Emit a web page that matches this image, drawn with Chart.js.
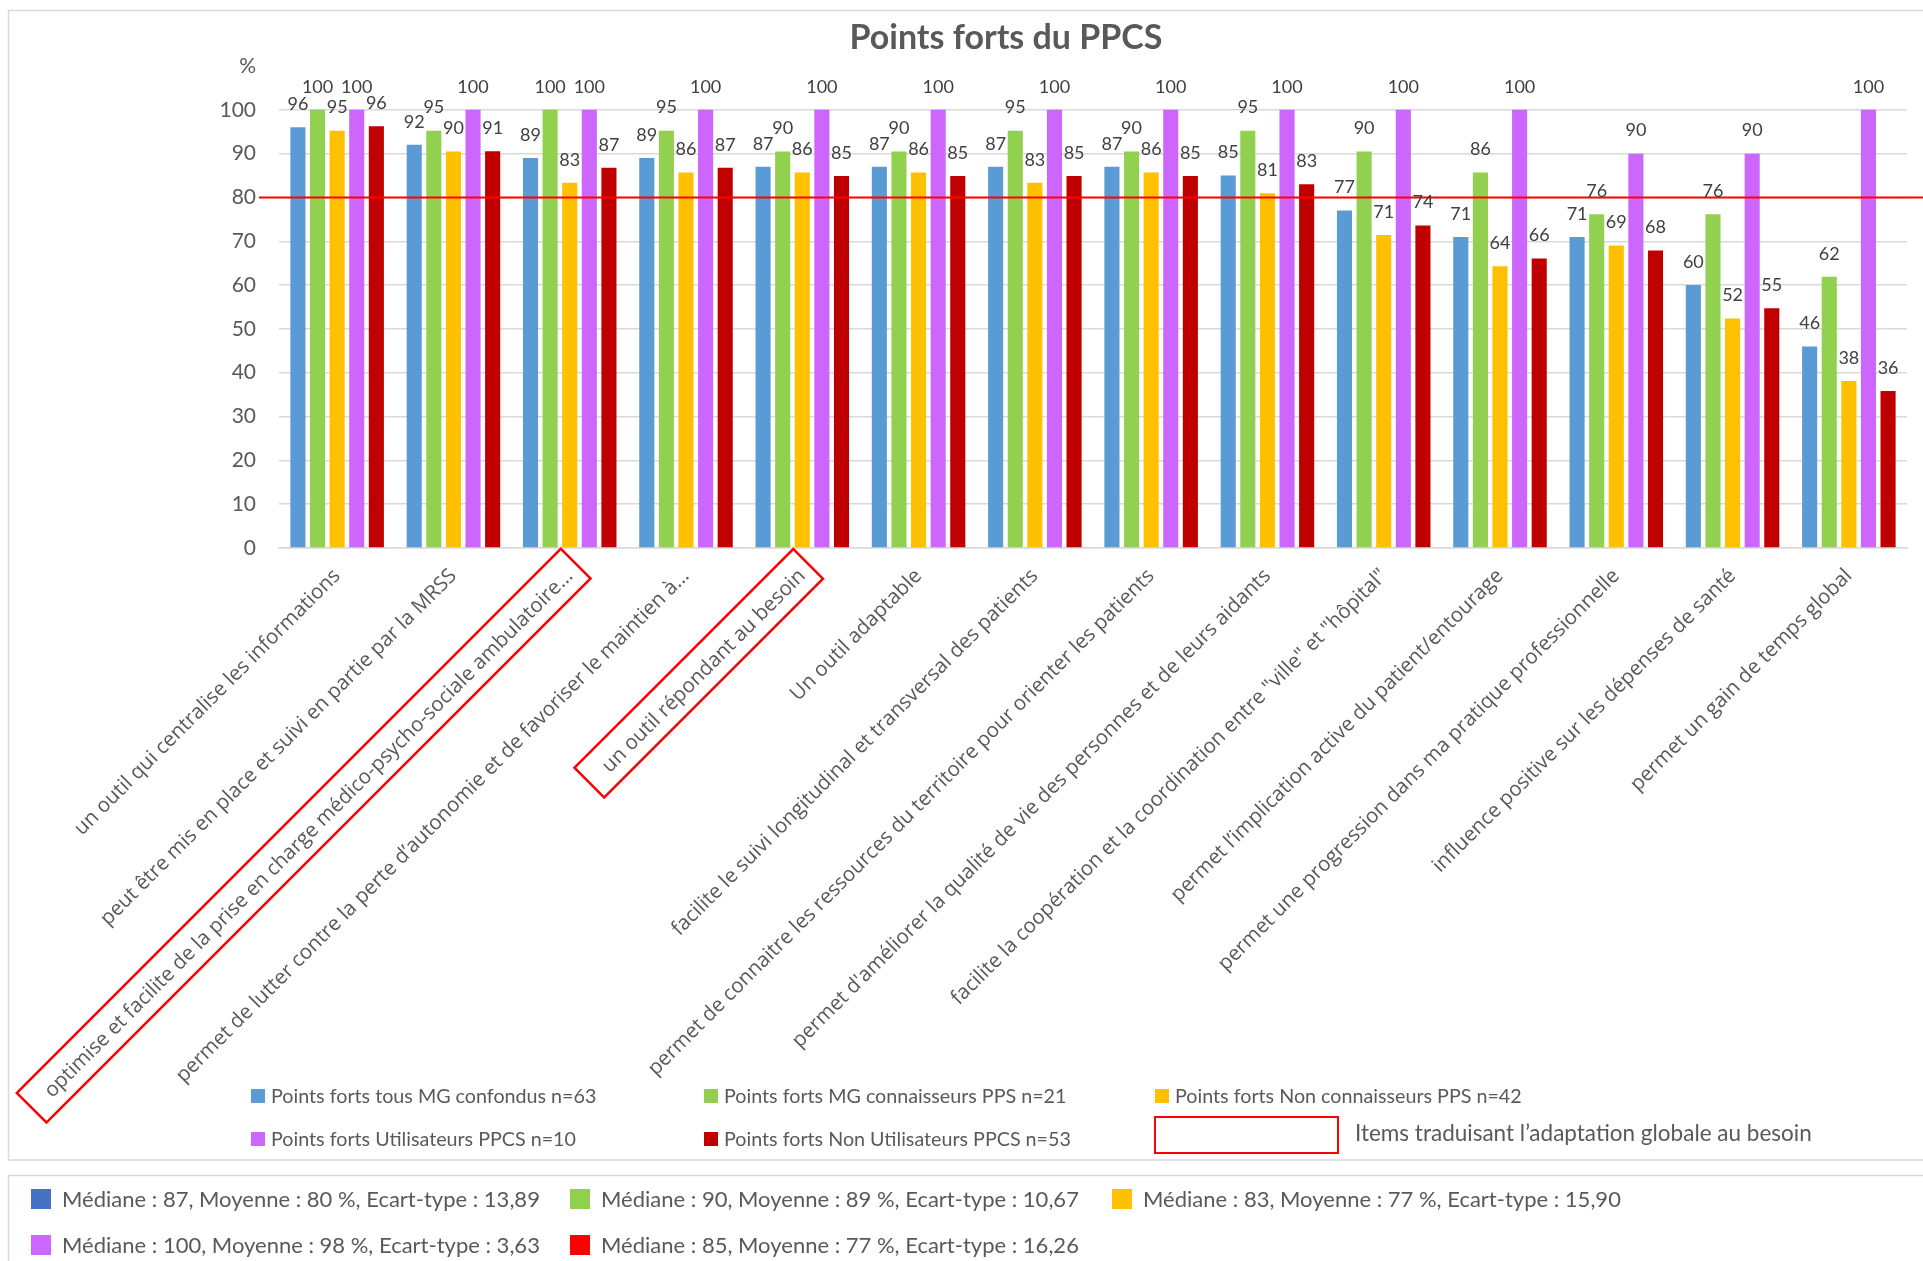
<!DOCTYPE html>
<html>
<head>
<meta charset="utf-8">
<title>Points forts du PPCS</title>
<script src="https://cdn.jsdelivr.net/npm/chart.js@4.4.0/dist/chart.umd.min.js"></script>
<style>
	body { margin: 0; background: #fff; }
	#wrap { width: 1923px; height: 1261px; position: relative; }
</style>
</head>
<body>
<div id="wrap"><canvas id="canvas"></canvas></div>
<script>
// categories (items of the questionnaire)
const categories = [
	'un outil qui centralise les informations',
	'peut être mis en place et suivi en partie par la MRSS',
	'optimise et facilite de la prise en charge médico-psycho-sociale ambulatoire...',
	'permet de lutter contre la perte d\u2019autonomie et de favoriser le maintien à...',
	'un outil répondant au besoin',
	'Un outil adaptable',
	'facilite le suivi longitudinal et transversal des patients',
	'permet de connaitre les ressources du territoire pour orienter les patients',
	'permet d\'améliorer la qualité de vie des personnes et de leurs aidants',
	'facilite la coopération et la coordination entre "ville" et "hôpital"',
	'permet l\u2019implication active du patient/entourage',
	'permet une progression dans ma pratique professionnelle',
	'influence positive sur les dépenses de santé',
	'permet un gain de temps global'
];

const seriesNames = [
	'Points forts tous MG confondus n=63',
	'Points forts MG connaisseurs PPS n=21',
	'Points forts Non connaisseurs PPS n=42',
	'Points forts Utilisateurs PPCS n=10',
	'Points forts Non Utilisateurs PPCS n=53'
];

// values in %
const tousMG = [96, 92, 89, 89, 87, 87, 87, 87, 85, 77, 71, 71, 60, 46];
const connaisseurs = [100, 95.24, 100, 95.24, 90.48, 90.48, 95.24, 90.48, 95.24, 90.48, 85.71, 76.19, 76.19, 61.9];
const nonConnaisseurs = [95.24, 90.48, 83.33, 85.71, 85.71, 85.71, 83.33, 85.71, 80.95, 71.43, 64.29, 69.05, 52.38, 38.1];
const utilisateurs = [100, 100, 100, 100, 100, 100, 100, 100, 100, 100, 100, 90, 90, 100];
const nonUtilisateurs = [96.23, 90.57, 86.79, 86.79, 84.91, 84.91, 84.91, 84.91, 83.02, 73.58, 66.04, 67.92, 54.72, 35.85];

const seriesColors = ['#5B9BD5', '#92D050', '#FFC000', '#CC66FF', '#C00000'];

// y ticks, the top one carries the unit
const yTicks = [0, 10, 20, 30, 40, 50, 60, 70, 80, 90, 100, 110];
const unitLabel = '%';
const threshold = 80;

// items framed in red
const framedItems = [2, 4];
const frameLegend = 'Items traduisant l\u2019adaptation globale au besoin';

// summary box
const statMedian = [87, 90, 83, 100, 85];
const statMean = [80, 89, 77, 98, 77];
const statSd = ['13,89', '10,67', '15,90', '3,63', '16,26'];
const statColors = ['#4472C4', '#92D050', '#FFC000', '#CC66FF', '#FF0000'];

const TEXT = '#595959';

const framePlugin = {
	id: 'frame',
	beforeDraw(chart) {
		const ctx = chart.ctx;
		ctx.save();
		ctx.fillStyle = '#fff';
		ctx.fillRect(0, 0, chart.width, chart.height);
		ctx.strokeStyle = '#D9D9D9';
		ctx.lineWidth = 1.5;
		ctx.strokeRect(8.5, 10.5, 1930, 1149.5);
		ctx.strokeRect(8.5, 1175.5, 1930, 120);
		ctx.restore();
	}
};

const marksPlugin = {
	id: 'marks',
	afterDatasetsDraw(chart) {
		const ctx = chart.ctx;
		const y = chart.scales.y.getPixelForValue(threshold);
		ctx.save();
		ctx.strokeStyle = '#FF0000';
		ctx.lineWidth = 2;
		ctx.beginPath();
		ctx.moveTo(259, y);
		ctx.lineTo(chart.width, y);
		ctx.stroke();

		ctx.fillStyle = '#404040';
		ctx.font = '18px Lato';
		ctx.textAlign = 'center';
		ctx.textBaseline = 'middle';
		chart.data.datasets.forEach((ds, i) => {
			chart.getDatasetMeta(i).data.forEach((bar, j) => {
				ctx.fillText(String(Math.round(ds.data[j])), bar.x, bar.y - 23);
			});
		});
		ctx.restore();
	},
	afterDraw(chart) {
		const ctx = chart.ctx;
		ctx.save();

		// red frames round some category labels
		const items = chart.scales.x.getLabelItems();
		framedItems.forEach((idx) => {
			const it = items[idx];
			if (!it) return;
			const o = it.options;
			ctx.save();
			ctx.translate(o.translation[0], o.translation[1]);
			ctx.rotate(o.rotation);
			ctx.font = it.font.string;
			ctx.textAlign = o.textAlign;
			ctx.textBaseline = o.textBaseline;
			const m = ctx.measureText(it.label);
			const asc = m.fontBoundingBoxAscent, desc = m.fontBoundingBoxDescent;
			const x0 = -m.actualBoundingBoxLeft - 22;
			const x1 = m.actualBoundingBoxRight + 12;
			const y0 = it.textOffset - asc - 7;
			const y1 = it.textOffset + desc + 7;
			ctx.strokeStyle = '#FF0000';
			ctx.lineWidth = 2.5;
			ctx.strokeRect(x0, y0, x1 - x0, y1 - y0);
			ctx.restore();
		});

		// title
		ctx.fillStyle = TEXT;
		ctx.font = 'bold 34px Lato';
		ctx.textAlign = 'center';
		ctx.textBaseline = 'middle';
		ctx.fillText('Points forts du PPCS', 1006, 38);

		// legend
		const legendCols = [251, 704, 1155];
		const legendRows = [1096, 1139];
		ctx.font = '19.7px Lato';
		ctx.textAlign = 'left';
		chart.data.datasets.forEach((ds, i) => {
			const x = legendCols[i % 3];
			const y = legendRows[Math.floor(i / 3)];
			ctx.fillStyle = ds.backgroundColor;
			ctx.fillRect(x, y - 7, 14, 14);
			ctx.fillStyle = TEXT;
			ctx.fillText(ds.label, x + 20, y + 1);
		});
		ctx.strokeStyle = '#FF0000';
		ctx.lineWidth = 2;
		ctx.strokeRect(1155, 1117, 183, 36);
		ctx.fillStyle = TEXT;
		ctx.font = '22.5px Lato';
		ctx.fillText(frameLegend, 1355, 1134);

		// summary
		const statCols = [31, 570, 1112];
		const statRows = [1199, 1245];
		ctx.font = '22px Lato';
		statMedian.forEach((med, i) => {
			const x = statCols[i % 3];
			const y = statRows[Math.floor(i / 3)];
			ctx.fillStyle = statColors[i];
			ctx.fillRect(x, y - 10, 20, 20);
			ctx.fillStyle = TEXT;
			ctx.fillText('Médiane : ' + med + ', Moyenne : ' + statMean[i] + ' %, Ecart-type : ' + statSd[i], x + 31, y + 1);
		});
		ctx.restore();
	}
};

const series = [tousMG, connaisseurs, nonConnaisseurs, utilisateurs, nonUtilisateurs];

new Chart(document.getElementById('canvas'), {
	type: 'bar',
	data: {
		labels: categories,
		datasets: series.map((values, i) => ({
			label: seriesNames[i],
			data: values,
			backgroundColor: seriesColors[i],
			borderWidth: 0,
			categoryPercentage: 0.843,
			barPercentage: 0.77
		}))
	},
	options: {
		responsive: true,
		maintainAspectRatio: false,
		animation: false,
		layout: { padding: { left: 221, right: 16, top: 66, bottom: 0 } },
		plugins: {
			legend: { display: false },
			title: { display: false },
			tooltip: { enabled: false }
		},
		scales: {
			x: {
				grid: { display: false },
				border: { display: true, color: '#D9D9D9', width: 1.5 },
				afterFit(scale) {
					scale.height = 713;
					scale.paddingLeft = 0;
					scale.paddingRight = 0;
				},
				ticks: {
					autoSkip: false,
					maxRotation: 45,
					minRotation: 45,
					padding: 8,
					color: TEXT,
					font: { family: "'Open Sans', sans-serif", size: 20.5 }
				}
			},
			y: {
				min: yTicks[0],
				max: yTicks[yTicks.length - 1],
				afterBuildTicks(scale) {
					scale.ticks = yTicks.map((v) => ({ value: v }));
				},
				afterFit(scale) {
					scale.width = 58;
				},
				border: { display: false },
				grid: {
					drawTicks: false,
					lineWidth: 1.5,
					color: (c) => (c.tick && c.tick.value === yTicks[yTicks.length - 1]) ? 'rgba(0,0,0,0)' : '#D9D9D9'
				},
				ticks: {
					padding: 23,
					color: TEXT,
					font: { family: 'Lato', size: 21 },
					callback: (v) => v === yTicks[yTicks.length - 1] ? unitLabel : v
				}
			}
		}
	},
	plugins: [framePlugin, marksPlugin]
});
</script>
</body>
</html>
